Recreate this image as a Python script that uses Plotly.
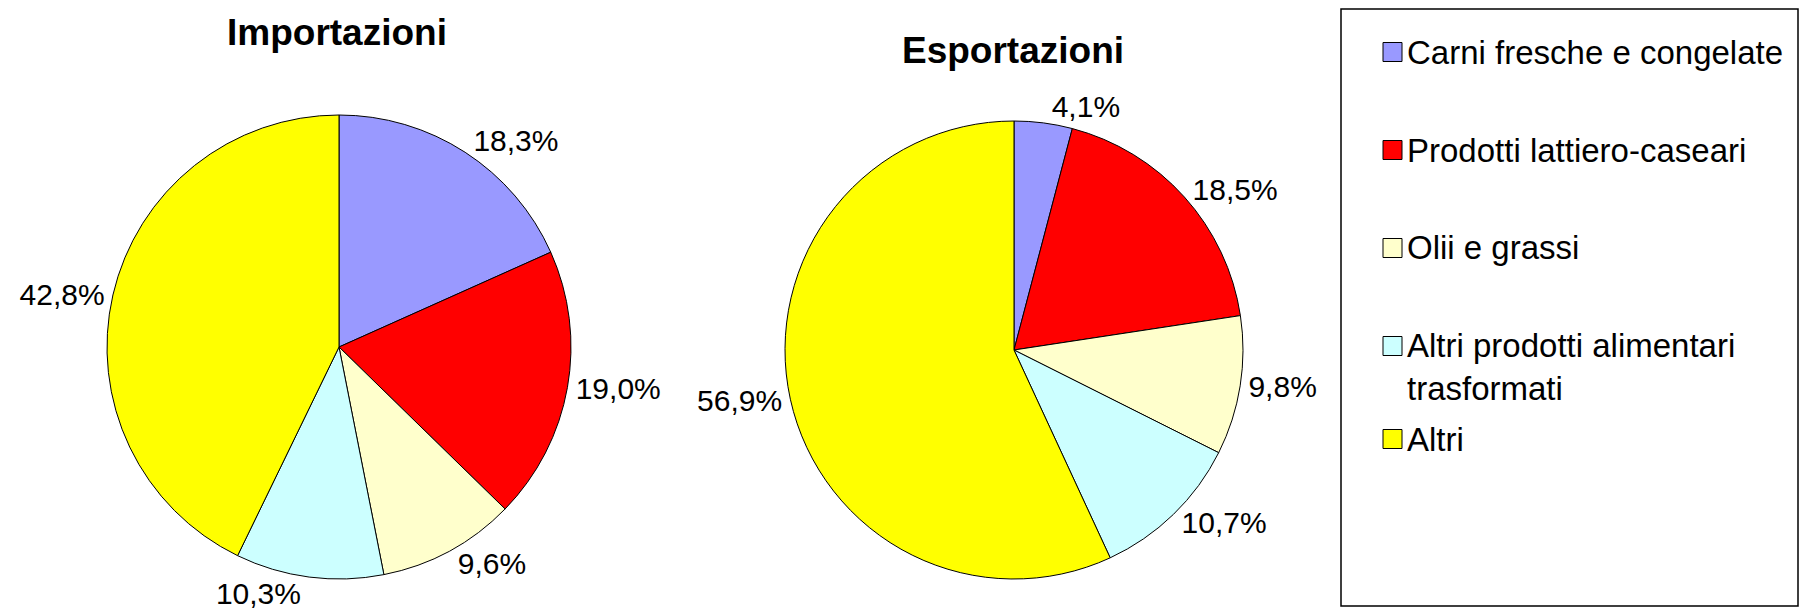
import plotly.graph_objects as go

# dati (quote %)
categorie = ["Carni fresche e congelate", "Prodotti lattiero-caseari", "Olii e grassi",
             "Altri prodotti alimentari trasformati", "Altri"]
voci_legenda = ["Carni fresche e congelate", "Prodotti lattiero-caseari", "Olii e grassi",
                "Altri prodotti alimentari<br>trasformati", "Altri"]
importazioni = [18.3, 19.0, 9.6, 10.3, 42.8]
esportazioni = [4.1, 18.5, 9.8, 10.7, 56.9]
colori = ["#9999FF", "#FF0000", "#FFFFCC", "#CCFFFF", "#FFFF00"]

W, H = 1810, 614
FONT = "Liberation Sans, Arial, sans-serif"
SIZE_LEG = 33

def px_x(x):
    return x / W

def px_y(y):
    # y misurata dall'alto in pixel
    return 1 - y / H

def torta(valori, cx, cy, r):
    return go.Pie(
        labels=categorie, values=valori, sort=False,
        direction="clockwise", rotation=0,
        marker=dict(colors=colori, line=dict(color="black", width=1)),
        textposition="outside", texttemplate="%{percent:.1%}",
        textfont=dict(family=FONT, size=30, color="black"),
        domain=dict(x=[px_x(cx - r), px_x(cx + r)], y=[px_y(cy + r), px_y(cy - r)]),
        showlegend=False, hoverinfo="label+percent",
    )

fig = go.Figure()
fig.add_trace(torta(importazioni, 339, 347, 232))
fig.add_trace(torta(esportazioni, 1014, 350, 229))

# titoli
for titolo, cx, cy in [("Importazioni", 337, 32), ("Esportazioni", 1013, 50)]:
    fig.add_annotation(text="<b>" + titolo + "</b>", x=px_x(cx), y=px_y(cy),
                       xref="paper", yref="paper", xanchor="center", yanchor="middle",
                       showarrow=False, font=dict(family=FONT, size=37, color="black"))

# legenda disegnata a mano (riquadro, quadratini, testo)
fig.add_shape(type="rect", xref="paper", yref="paper",
              x0=px_x(1341), x1=px_x(1798), y0=px_y(606), y1=px_y(9),
              line=dict(color="black", width=1.5), fillcolor="white", layer="below")
pos_y = [52, 150, 248, 346, 439]
for voce, col, y in zip(voci_legenda, colori, pos_y):
    fig.add_shape(type="rect", xref="paper", yref="paper",
                  x0=px_x(1383), x1=px_x(1402), y0=px_y(y + 9.5), y1=px_y(y - 9.5),
                  line=dict(color="black", width=1), fillcolor=col)
    # per le voci su due righe il centro scende di mezza interlinea
    n_righe = voce.count("<br>") + 1
    y_c = y + (n_righe - 1) * SIZE_LEG * 1.3 / 2
    fig.add_annotation(text=voce, x=px_x(1405), y=px_y(y_c), xref="paper", yref="paper",
                       xanchor="left", yanchor="middle", align="left", showarrow=False,
                       font=dict(family=FONT, size=SIZE_LEG, color="black"))

fig.update_layout(
    width=W, height=H,
    margin=dict(l=0, r=0, t=0, b=0),
    paper_bgcolor="white", plot_bgcolor="white",
    separators=",.",
    showlegend=False,
)

fig.write_html("out.html", config={"displayModeBar": False},
               post_script="document.body.style.margin='0';")
